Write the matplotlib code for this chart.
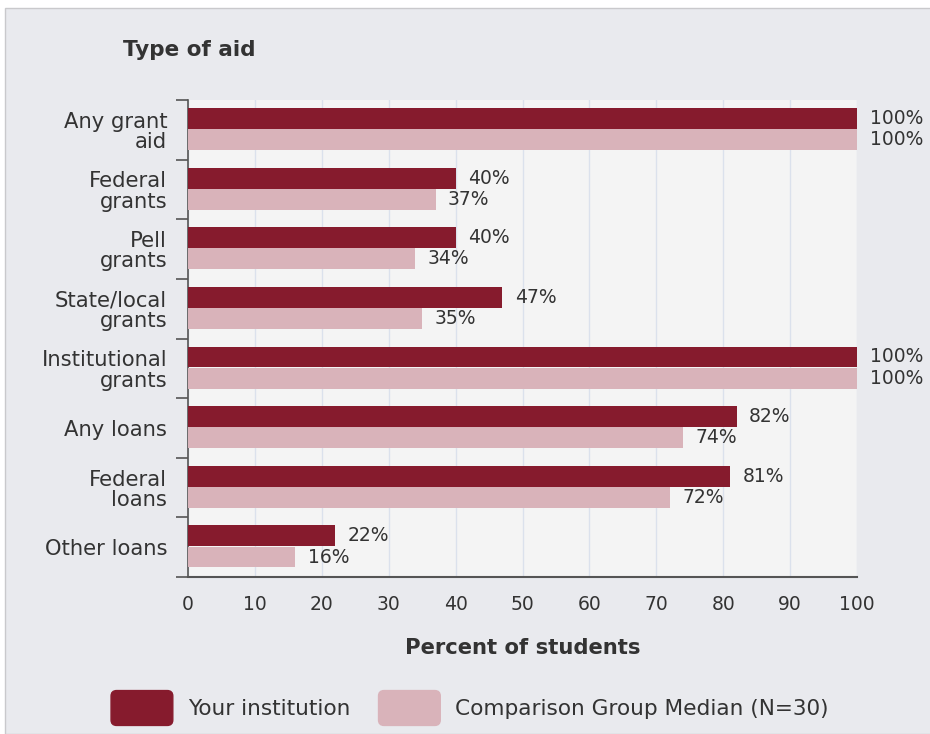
import matplotlib
matplotlib.use("Agg")
import matplotlib.pyplot as plt
from matplotlib.patches import Patch, Rectangle, FancyBboxPatch
from matplotlib.legend_handler import HandlerPatch

categories = ["Any grant\naid", "Federal\ngrants", "Pell\ngrants", "State/local\ngrants",
              "Institutional\ngrants", "Any loans", "Federal\nloans", "Other loans"]
your_inst = [100, 40, 40, 47, 100, 82, 81, 22]
comparison = [100, 37, 34, 35, 100, 74, 72, 16]
xticks = [0, 10, 20, 30, 40, 50, 60, 70, 80, 90, 100]
series_names = ["Your institution", "Comparison Group Median (N=30)"]

dark = "#861b2d"
light = "#d9b3ba"
txt = "#333333"

plt.rcParams['font.family'] = ['DejaVu Sans']

fig = plt.figure(figsize=(9.3, 7.34), dpi=100, facecolor="white")
bg = Rectangle((5/930, 0), 1, 1 - 8/734, transform=fig.transFigure,
               facecolor="#e9eaee", edgecolor="#c9c9cc", lw=1, zorder=-10)
fig.patches.append(bg)

ax = fig.add_axes([188/930, 1 - 577/734, (857-188)/930, (577-100)/734])
ax.set_zorder(1)
ax.set_facecolor("#f4f4f4")

ypos = list(range(len(categories)))
h = 0.35
ax.barh([y - 0.19 for y in ypos], your_inst, height=h, color=dark, zorder=3)
ax.barh([y + 0.165 for y in ypos], comparison, height=h, color=light, zorder=3)

for y, v in zip(ypos, your_inst):
    ax.annotate(f"{v}%", (v, y - 0.19), xytext=(9, 0), textcoords="offset points",
                va="center", ha="left", fontsize=13.5, color=txt, annotation_clip=False)
for y, v in zip(ypos, comparison):
    ax.annotate(f"{v}%", (v, y + 0.165), xytext=(9, 0), textcoords="offset points",
                va="center", ha="left", fontsize=13.5, color=txt, annotation_clip=False)

ax.set_xlim(0, 100)
ax.set_ylim(len(categories) - 0.5, -0.5)
ax.set_xticks(xticks)
ax.set_xticklabels([str(t) for t in xticks], fontsize=13.5, color=txt)
ax.tick_params(axis="x", length=0, pad=13)
ax.set_yticks(ypos)
ax.set_yticklabels(categories, fontsize=15.2, color=txt, linespacing=1.02)
ax.tick_params(axis="y", which="major", length=0, pad=15)
ax.set_yticks([y - 0.5 for y in range(len(categories) + 1)], minor=True)
ax.tick_params(axis="y", which="minor", length=9, width=1.2, color="#555555", direction="out")

ax.grid(axis="x", color="#dbe1ec", lw=1, zorder=0)
ax.set_axisbelow(True)
for s in ["top", "right"]:
    ax.spines[s].set_visible(False)
ax.spines["left"].set_color("#555555")
ax.spines["left"].set_linewidth(1.2)
ax.spines["bottom"].set_color("#555555")
ax.spines["bottom"].set_linewidth(1.5)

ax.set_xlabel("Percent of students", fontsize=15.2, fontweight="bold", color=txt, labelpad=17)
fig.text(123/930, 1 - 50/734, "Type of aid", fontsize=15.5, fontweight="bold", color=txt,
         ha="left", va="center")


def rounded(legend, orig_handle, xdescent, ydescent, width, height, fontsize):
    return FancyBboxPatch((-xdescent, -ydescent), width, height,
                          boxstyle="round,pad=0,rounding_size=4")


handles = [Patch(facecolor=dark, edgecolor=dark, label=series_names[0]),
           Patch(facecolor=light, edgecolor=light, label=series_names[1])]
leg = fig.legend(handles=handles, loc="center", bbox_to_anchor=(470/930, 1 - 708/734), ncol=2,
                 frameon=False, fontsize=15.6, handlelength=2.85, handleheight=2.1,
                 handletextpad=0.7, columnspacing=1.3,
                 handler_map={Patch: HandlerPatch(patch_func=rounded)})
for t in leg.get_texts():
    t.set_color(txt)

fig.savefig("out.png", dpi=100, facecolor=fig.get_facecolor())
